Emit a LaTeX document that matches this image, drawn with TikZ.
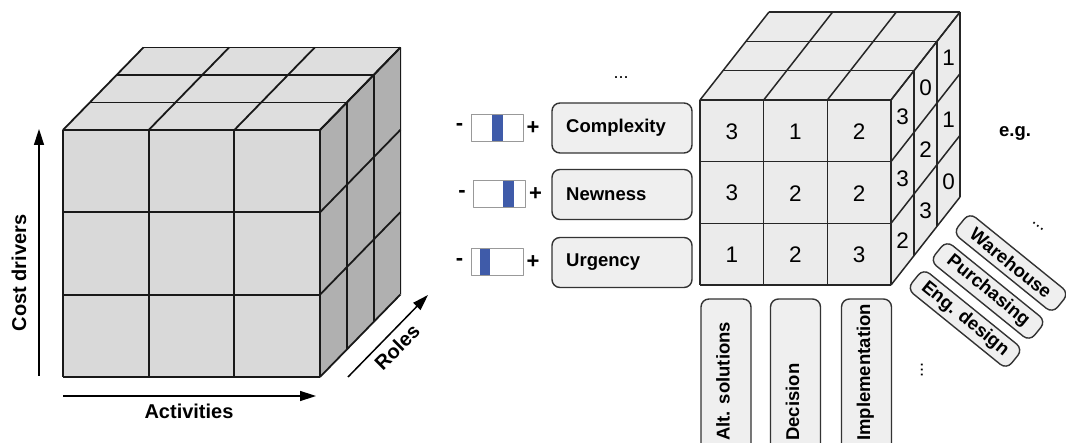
\documentclass[tikz,border=0pt]{standalone}
\usepackage{fontspec}
\setmainfont{Liberation Sans}
\usetikzlibrary{arrows.meta}

\definecolor{topgray}{HTML}{DEDEDE}
\definecolor{frontgray}{HTML}{D9D9D9}
\definecolor{sidegray}{HTML}{B0B0B0}
\definecolor{cellgray}{HTML}{EBEBEB}
\definecolor{boxgray}{HTML}{EFEFEF}
\definecolor{barblue}{HTML}{3F5BA9}

\begin{document}
\begin{tikzpicture}[x=1pt,y=-1pt,line join=round,
  bigcube/.style={draw=black!90,line width=1.8pt},
  smallcube/.style={draw=black!85,line width=1.5pt},
  axis/.style={line width=1.5pt,-{Triangle[length=16pt,width=10pt]}},
  axislabel/.style={font=\fontsize{20}{22}\selectfont\bfseries,inner sep=0pt},
  boxlabel/.style={font=\fontsize{18.5}{20}\selectfont\bfseries,inner sep=0pt},
  num/.style={font=\fontsize{22.5}{24}\selectfont,inner sep=0pt},
  dots/.style={font=\fontsize{18}{20}\selectfont,inner sep=0pt},
  driverbox/.style={draw=black!80,line width=1.4pt,fill=boxgray,rounded corners=8pt},
  slider/.style={draw=black!40,line width=1pt,fill=white},
  sign/.style={font=\fontsize{22}{24}\selectfont\bfseries,inner sep=0pt}]
\useasboundingbox (0,0) rectangle (1066,443);
\clip (0,0) rectangle (1066,443);

\fill[topgray] (63,130) -- (143.4,47.5) -- (401.4,47.5) -- (320,130) -- cycle;
\fill[frontgray] (63,130) rectangle (320,377);
\fill[sidegray] (320,130) -- (401.4,47.5) -- (401.4,294.5) -- (320,377) -- cycle;
\foreach \i in {0,...,3} {
  \draw[bigcube] ({63+85.67*\i},130) -- ++(80.4,-82.5);
  \draw[bigcube] ({63+26.8*\i},{130-27.5*\i}) -- ++(257,0);
  \draw[bigcube] ({320+26.8*\i},{130-27.5*\i}) -- ++(0,247);
  \draw[bigcube] (320,{130+82.33*\i}) -- ++(80.4,-82.5);
  \draw[bigcube] ({63+85.67*\i},130) -- ++(0,247);
  \draw[bigcube] (63,{130+82.33*\i}) -- ++(257,0);
}

\coordinate (cd0) at (39,376);
\coordinate (cd1) at (39,129);
\coordinate (ac0) at (63,396);
\coordinate (ac1) at (316,396);
\coordinate (ro0) at (348,377);
\coordinate (ro1) at (428,295);
\draw[axis] (cd0) -- (cd1);
\draw[axis] (ac0) -- (ac1);
\draw[axis] (ro0) -- (ro1);
\node[axislabel,rotate=90] (costdrivers) at (19,273) {Cost drivers};
\node[axislabel] (activities) at (189,411) {Activities};
\node[axislabel,rotate=45] (roles) at (397,347) {Roles};

\fill[cellgray] (700,100) -- (769,12) -- (960,12) -- (960,197) -- (891,285) -- (700,285) -- cycle;
\foreach \i in {0,...,3} {
  \draw[smallcube] ({700+63.67*\i},100) -- ++(69,-88);
  \draw[smallcube] ({700+23*\i},{100-29.33*\i}) -- ++(191,0);
  \draw[smallcube] ({891+23*\i},{100-29.33*\i}) -- ++(0,185);
  \draw[smallcube] (891,{100+61.67*\i}) -- ++(69,-88);
  \draw[smallcube] ({700+63.67*\i},100) -- ++(0,185);
  \draw[smallcube] (700,{100+61.67*\i}) -- ++(191,0);
}
\foreach \v [count=\n from 0] in {3,1,2,3,2,2,1,2,3}
  \node[num] (front\n) at ({731.8+63.67*Mod(\n,3)},{131.5+61.67*int(\n/3)}) {\v};
\foreach \v [count=\n from 0] in {3,3,2,0,2,3,1,1,0}
  \node[num] (side\n) at ({891+23*(int(\n/3)+0.5)},{131.5+61.67*Mod(\n,3)-29.33*(int(\n/3)+0.5)}) {\v};

\foreach \y/\txt/\bar/\dx [count=\n] in {128/Complexity/492/0,194.5/Newness/503/2.5,262.5/Urgency/479.5/0} {
  \draw[driverbox] (552,{\y-25}) rectangle (692,{\y+25});
  \node[boxlabel,anchor=west] (driver\n) at (566,\y) {\txt};
  \draw[slider] ({471+\dx},{\y-13.5}) rectangle ({523+\dx},{\y+13.5});
  \fill[barblue] (\bar,{\y-13}) rectangle ({\bar+10.5},{\y+13});
  \node[sign] (minus\n) at ({459.5+\dx},{\y-1}) {-};
  \node[sign] (plus\n) at ({533+\dx},\y) {+};
}
\node[dots] (moredrivers) at (621,78) {...};

\foreach \x/\txt [count=\n] in {726/Alt. solutions,795.5/Decision,866.5/Implementation} {
  \draw[driverbox] ({\x-25},299) rectangle ({\x+25},470);
  \node[boxlabel,rotate=90,anchor=mid west] (activity\n) at ({\x+1},441) {\txt};
}
\node[dots,rotate=90] (moreactivities) at (922,370) {...};

\foreach \x/\y/\txt [count=\n] in {965/319/Eng. design,988/291/Purchasing,1011/263/Warehouse} {
  \node[driverbox,boxlabel,rotate=-39,minimum width=128pt,minimum height=26pt] (role\n) at (\x,\y) {\txt};
}
\node[dots,rotate=-39] (moreroles) at (1038,226) {...};
\node[boxlabel] (eg) at (1015,133) {e.g.};
\end{tikzpicture}
\end{document}
